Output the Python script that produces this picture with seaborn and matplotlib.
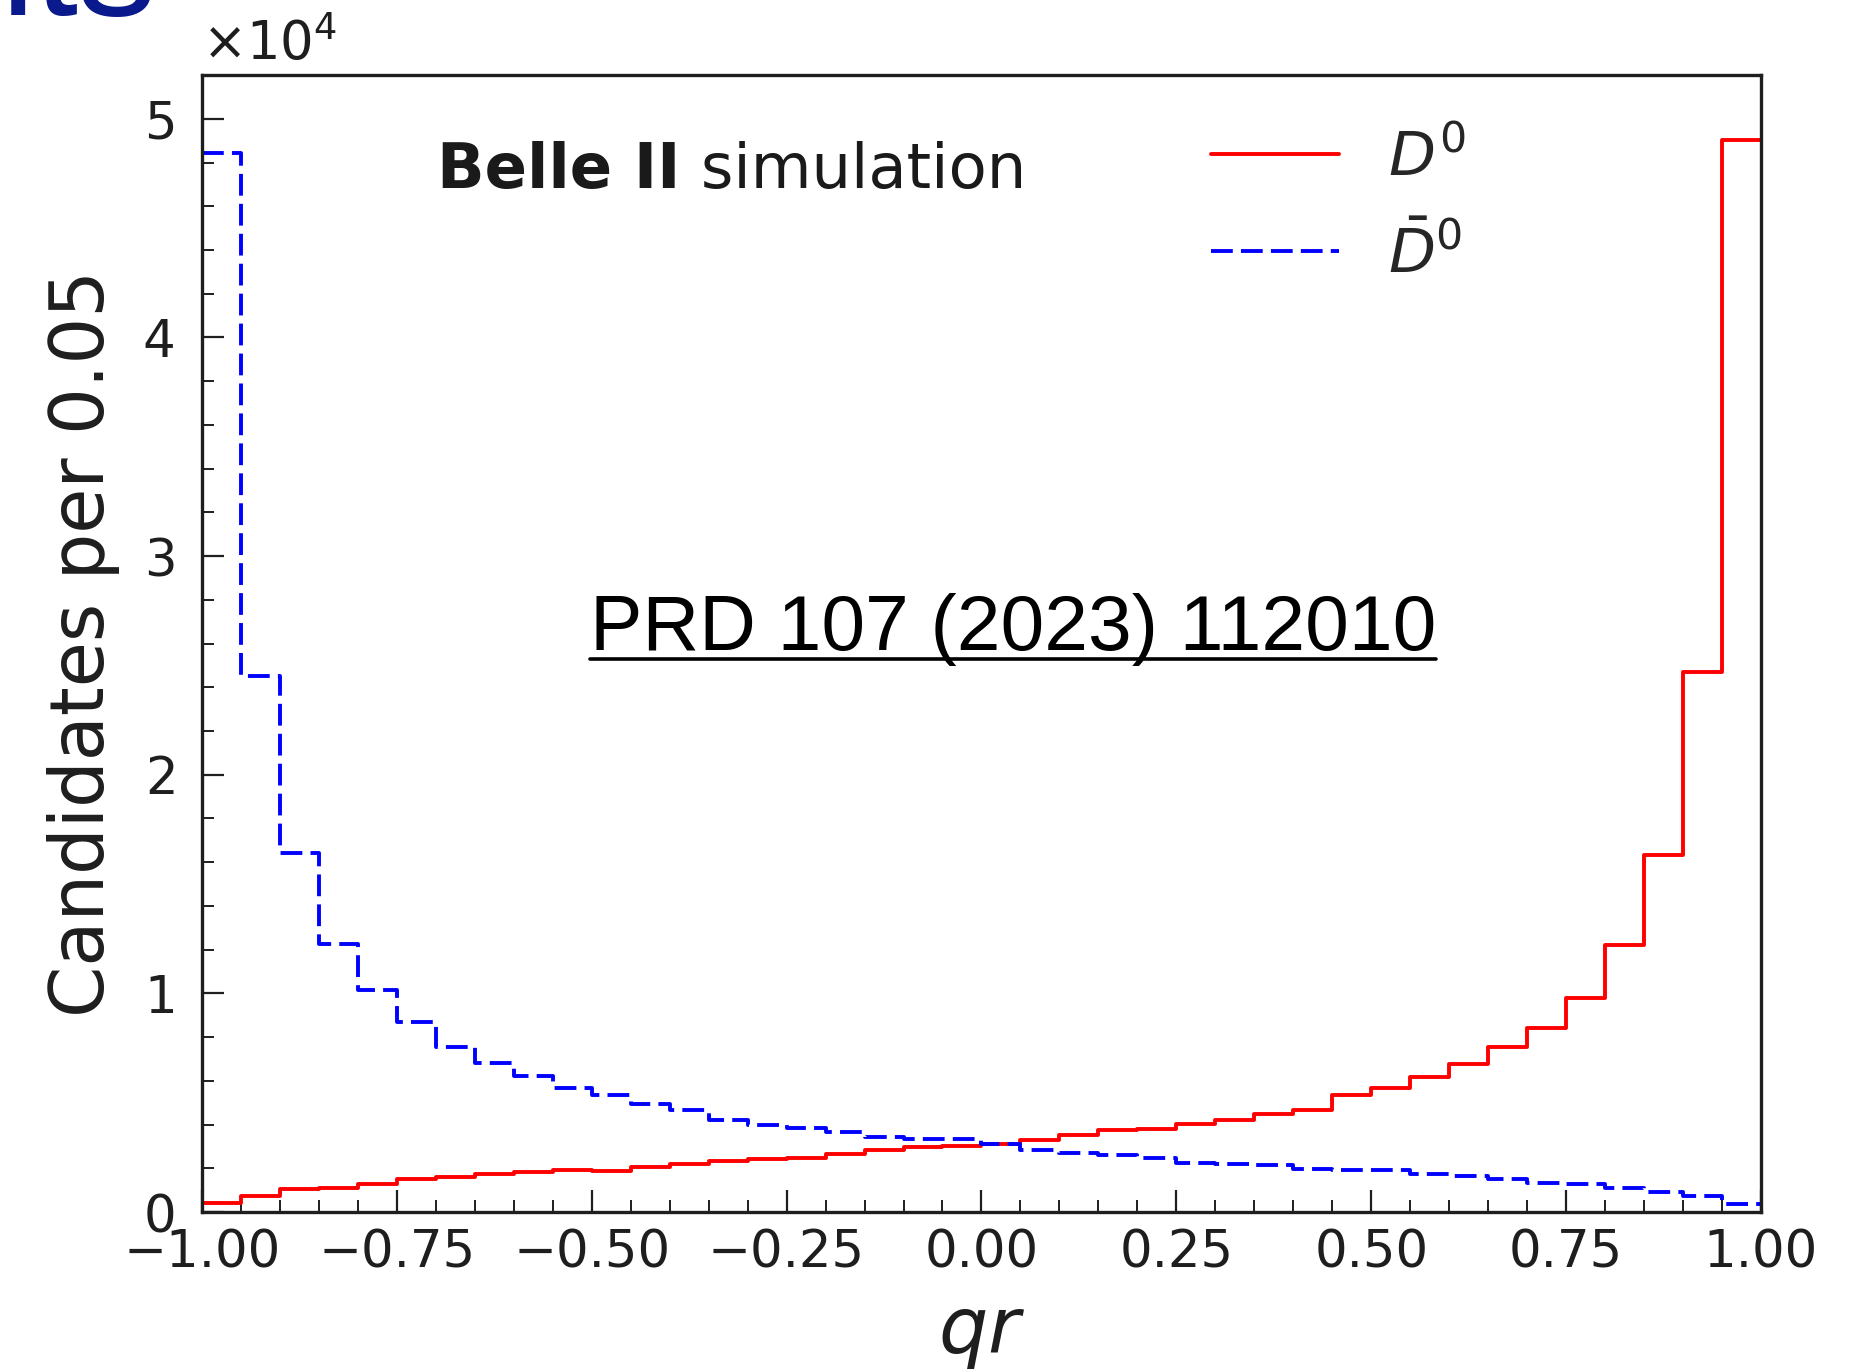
import numpy as np
import pandas as pd
import matplotlib
matplotlib.use("Agg")
import matplotlib.pyplot as plt
import seaborn as sns
from matplotlib.ticker import MultipleLocator, ScalarFormatter, FuncFormatter
from matplotlib.lines import Line2D

# ---------------- data (counts per 0.05 bin) ----------------
bin_edges = [round(-1.0 + 0.05 * i, 2) for i in range(41)]
bin_centers = [round((bin_edges[i] + bin_edges[i + 1]) / 2, 3) for i in range(40)]

d0_counts = [410, 740, 1040, 1120, 1300, 1510, 1590, 1750, 1830, 1900,
             1880, 2060, 2180, 2340, 2440, 2490, 2670, 2820, 2980, 3020,
             3130, 3310, 3510, 3740, 3820, 4020, 4200, 4470, 4660, 5340,
             5680, 6180, 6750, 7560, 8400, 9770, 12200, 16320, 24690, 49050]

d0bar_counts = [48450, 24520, 16430, 12280, 10170, 8680, 7540, 6810, 6200, 5660,
                5340, 4920, 4660, 4200, 3970, 3850, 3660, 3440, 3360, 3340,
                3130, 2820, 2720, 2630, 2470, 2260, 2180, 2170, 1980, 1900,
                1910, 1760, 1630, 1500, 1330, 1300, 1100, 920, 720, 380]

labels = [r"$D^0$", r"$\bar{D}^0$"]
x_ticks = [-1.0, -0.75, -0.5, -0.25, 0.0, 0.25, 0.5, 0.75, 1.0]
y_ticks = [0, 10000, 20000, 30000, 40000, 50000]

df_d0 = pd.DataFrame({"qr": bin_centers, "w": d0_counts})
df_d0bar = pd.DataFrame({"qr": bin_centers, "w": d0bar_counts})

# ---------------- figure ----------------
sns.set_style("ticks")
plt.rcParams["font.family"] = ["DejaVu Sans"]

fig = plt.figure(figsize=(18.65, 13.72), dpi=100)
ax = fig.add_axes([0.1083, 0.1166, 0.9442 - 0.1083, 0.9453 - 0.1166])

sns.histplot(data=df_d0, x="qr", weights="w", bins=bin_edges,
             element="step", fill=False, color="red", linewidth=2.8, ax=ax,
             label=labels[0])
sns.histplot(data=df_d0bar, x="qr", weights="w", bins=bin_edges,
             element="step", fill=False, color="blue", linewidth=2.8,
             linestyle=(0, (5.6, 2.1)), ax=ax, label=labels[1])

ax.set_xlim(-1.0, 1.0)
ax.set_ylim(0, 52000)
ax.set_xticks(x_ticks)
ax.set_yticks(y_ticks)
ax.xaxis.set_minor_locator(MultipleLocator(0.05))
ax.yaxis.set_minor_locator(MultipleLocator(2000))
ax.xaxis.set_major_formatter(FuncFormatter(lambda v, p: f"{v:.2f}".replace("-", "\u2212")))

fmt = ScalarFormatter(useMathText=True)
fmt.set_powerlimits((0, 0))
ax.yaxis.set_major_formatter(fmt)
ax.yaxis.OFFSETTEXTPAD = 11
ax.yaxis.get_offset_text().set_fontsize(38)
ax.yaxis.get_offset_text().set_color("#1e1e1e")

ax.tick_params(axis="both", which="major", direction="in", length=16, width=1.6,
               labelsize=37, colors="#1e1e1e", bottom=True, left=True,
               top=False, right=False)
ax.tick_params(axis="x", which="major", pad=12)
ax.tick_params(axis="y", which="major", pad=20)
ax.tick_params(axis="both", which="minor", direction="in", length=8.5, width=1.4,
               colors="#1e1e1e", bottom=True, left=True, top=False, right=False)
for s in ax.spines.values():
    s.set_linewidth(2.4)
    s.set_color("#1e1e1e")

ax.set_xlabel(r"$qr$", fontsize=56, color="#1e1e1e", labelpad=12)
ax.set_ylabel("Candidates per 0.05", fontsize=53, color="#1e1e1e", labelpad=16)

leg = ax.legend(loc="upper left", bbox_to_anchor=(0.647, 0.952), frameon=False,
                fontsize=44, handlelength=2.1, handletextpad=0.8, borderpad=0,
                borderaxespad=0, labelspacing=0.6)

t1 = ax.text(0.151, 0.9006, "Belle II", transform=ax.transAxes, fontsize=45,
             fontweight="bold", color="#1a1a1a", va="baseline", ha="left")
ax.annotate(" simulation", xy=(1, 0), xycoords=t1, fontsize=45, color="#1a1a1a",
            va="bottom", ha="left")

# slide remnants
fig.text(-0.028, 0.989, "nts", fontsize=113, color="#0a1a8c", ha="left",
         va="baseline", family="Liberation Sans")
prd = fig.text(0.543, 0.5262, "PRD 107 (2023) 112010", fontsize=56.5, color="black",
               ha="center", va="baseline", family="Liberation Sans")

fig.canvas.draw()
bb = prd.get_window_extent()
inv = fig.transFigure.inverted()
(x0, y0), (x1, _) = inv.transform([(bb.x0, bb.y0 + 7), (bb.x1, bb.y0)])
fig.add_artist(Line2D([x0, x1], [y0, y0], transform=fig.transFigure,
                      color="black", linewidth=2.6))

fig.savefig("out.png", dpi=100)
